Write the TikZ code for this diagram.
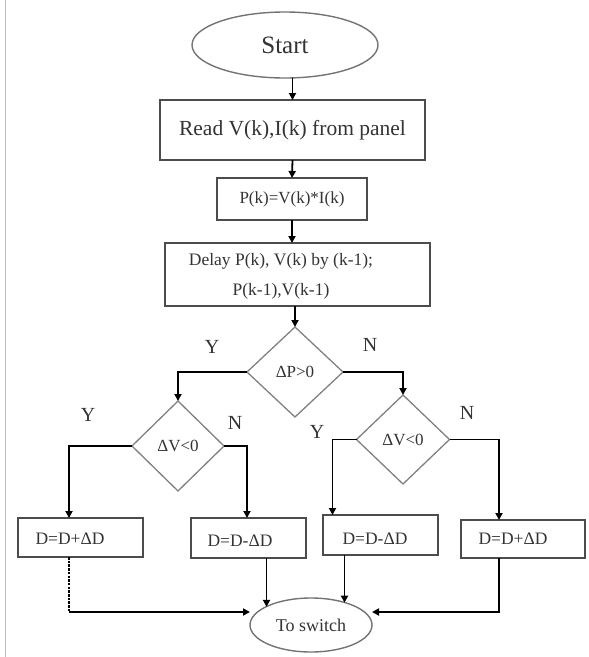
\documentclass[tikz,border=0pt]{standalone}
\usepackage{fontspec}
\setmainfont{Liberation Serif}
\usetikzlibrary{shapes.geometric,arrows.meta}
\begin{document}
\begin{tikzpicture}[x=1pt,y=-1pt,outer sep=0pt,
 box/.style={draw=black!70,line width=1.6pt,inner sep=0pt,text=black!80},
 dia/.style={diamond,draw=black!50,line width=1.3pt,inner sep=0pt,text=black!80,font=\fontsize{17}{20}\selectfont},
 term/.style={ellipse,draw=black!55,line width=1.4pt,inner sep=0pt,text=black!80},
 txt/.style={inner sep=0pt,text=black!80,font=\fontsize{17.5}{21}\selectfont},
 conn/.style={draw=black,line width=1.8pt},
 arr/.style={conn,-{Triangle[length=7pt,width=7pt]}},
 lab/.style={inner sep=0pt,text=black!80,font=\fontsize{20}{24}\selectfont}]
\useasboundingbox (0,0) rectangle (589,657);
\draw[black!25,line width=1pt] (5,0) -- (5,657);

\node[term,minimum width=186,minimum height=66,font=\fontsize{25}{30}\selectfont] (start) at (285,45) {Start};
\node[box,minimum width=265,minimum height=60,font=\fontsize{21.5}{26}\selectfont] (read) at (292.5,130) {Read V(k),I(k) from panel};
\node[box,minimum width=150,minimum height=42,font=\fontsize{17}{20}\selectfont] (pk) at (292,199) {P(k)=V(k)*I(k)};
\node[box,minimum width=265,minimum height=63] (delay) at (297.5,274.5) {};
\node[txt,align=center,font=\fontsize{17.5}{30}\selectfont] (delaytxt) at (281,276) {Delay P(k), V(k) by (k-1);\\P(k-1),V(k-1)};

\node[dia,minimum width=96,minimum height=90] (dp) at (295,372) {ΔP>0};
\node[dia,minimum width=92,minimum height=90] (dv1) at (178,446) {ΔV<0};
\node[dia,minimum width=93,minimum height=89] (dv2) at (403,439.5) {ΔV<0};

\node[box,minimum width=125,minimum height=39] (b1) at (80.5,537.5) {};
\node[box,minimum width=115,minimum height=40] (b2) at (248.5,538) {};
\node[box,minimum width=115,minimum height=40] (b3) at (380.5,535) {};
\node[box,minimum width=124,minimum height=38] (b4) at (523,539) {};
\node[txt] (t1) at (70,539) {D=D+ΔD};
\node[txt] (t2) at (240,541) {D=D-ΔD};
\node[txt] (t3) at (375,539) {D=D-ΔD};
\node[txt] (t4) at (513,539) {D=D+ΔD};

\node[term,minimum width=122,minimum height=54,font=\fontsize{18}{22}\selectfont] (ts) at (311,625) {To switch};

\node[lab] (y0) at (212,347) {Y};
\node[lab] (n0) at (370,345) {N};
\node[lab] (y1) at (88,415) {Y};
\node[lab] (n1) at (235,423) {N};
\node[lab] (y2) at (317,432) {Y};
\node[lab] (n2) at (467,413) {N};

\coordinate (u1) at ([xshift=-11.5pt]b1.north);
\coordinate (u2) at ([xshift=-1.5pt]b2.north);
\coordinate (u3) at ([xshift=-48pt]b3.north);
\coordinate (u4) at ([xshift=-24pt]b4.north);
\coordinate (d1) at ([xshift=-11.5pt]b1.south);
\coordinate (d2) at ([xshift=18pt]b2.south);
\coordinate (d3) at ([xshift=-36pt]b3.south);
\coordinate (d4) at ([xshift=-24pt]b4.south);
\coordinate (k1) at ([yshift=13pt]ts.west);
\coordinate (k2) at ([yshift=13pt]ts.east);

\draw[arr] (read.north |- start.south) -- (read.north);
\draw[arr] (read.south) -- (pk.north);
\draw[arr] (pk.south) -- (pk.south |- delay.north);
\draw[arr] (dp.north |- delay.south) -- (dp.north);
\draw[arr] (dp.west) -| (dv1.north);
\draw[arr] (dp.east) -| (dv2.north);
\draw[arr] (dv1.west) -| (u1);
\draw[arr] (dv1.east) -| (u2);
\draw[arr] (dv2.west) -| (u3);
\draw[arr] (dv2.east) -| (u4);
\draw[conn,dash pattern=on 2.5pt off 1.2pt] (d1) -- (d1 |- k1);
\draw[arr] (d1 |- k1) -- (k1);
\draw[arr] (d2) -- (d2 |- ts.158);
\draw[arr] (d3) -- (d3 |- ts.33);
\draw[arr] (d4) |- (k2);
\end{tikzpicture}
\end{document}
